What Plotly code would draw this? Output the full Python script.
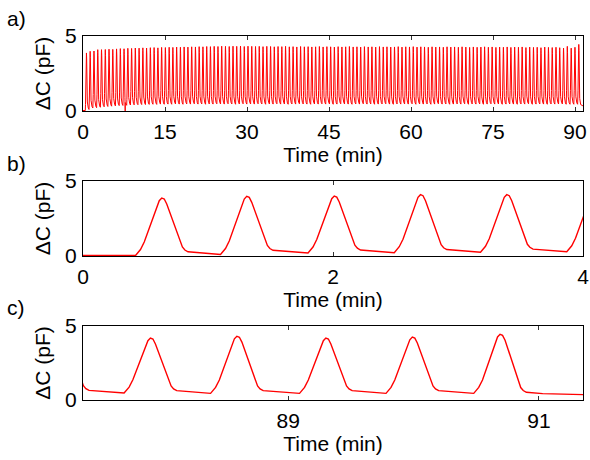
import plotly.graph_objects as go

# ---- data ----
# times (min) of each capacitance peak
peak_t = [0.63, 1.31, 2.01, 2.70, 3.39,
          4.08, 4.76, 5.45, 6.14, 6.83, 7.51, 8.20, 8.89, 9.57, 10.26,
          10.95, 11.63, 12.32, 13.01, 13.70, 14.38, 15.07, 15.76, 16.44, 17.13,
          17.82, 18.50, 19.19, 19.88, 20.57, 21.25, 21.94, 22.63, 23.31, 24.00,
          24.69, 25.37, 26.06, 26.75, 27.44, 28.12, 28.81, 29.50, 30.18, 30.87,
          31.56, 32.24, 32.93, 33.62, 34.31, 34.99, 35.68, 36.37, 37.05, 37.74,
          38.43, 39.11, 39.80, 40.49, 41.18, 41.86, 42.55, 43.24, 43.92, 44.61,
          45.30, 45.98, 46.67, 47.36, 48.05, 48.73, 49.42, 50.11, 50.79, 51.48,
          52.17, 52.85, 53.54, 54.23, 54.92, 55.60, 56.29, 56.98, 57.66, 58.35,
          59.04, 59.72, 60.41, 61.10, 61.79, 62.47, 63.16, 63.85, 64.53, 65.22,
          65.91, 66.59, 67.28, 67.97, 68.66, 69.34, 70.03, 70.72, 71.40, 72.09,
          72.78, 73.46, 74.15, 74.84, 75.53, 76.21, 76.90, 77.59, 78.27, 78.96,
          79.65, 80.33, 81.02, 81.71, 82.40, 83.08, 83.77, 84.46, 85.14, 85.83,
          86.52, 87.20,
          87.90, 88.59, 89.30, 89.99, 90.69]
# peak heights (pF)
peak_h = [3.87, 3.98, 4.00, 4.09, 4.09,
          4.10, 4.12, 4.11, 4.14, 4.16, 4.15, 4.18, 4.17, 4.20, 4.19,
          4.21, 4.20, 4.22, 4.23, 4.21, 4.24, 4.23, 4.25, 4.24, 4.26,
          4.25, 4.27, 4.26, 4.28, 4.27, 4.29, 4.28, 4.30, 4.29, 4.31,
          4.30, 4.32, 4.31, 4.30, 4.32, 4.31, 4.33, 4.30, 4.32, 4.31,
          4.30, 4.31, 4.29, 4.31, 4.30, 4.28, 4.30, 4.29, 4.31, 4.28,
          4.29, 4.27, 4.30, 4.28, 4.29, 4.27, 4.28, 4.30, 4.27, 4.29,
          4.28, 4.26, 4.29, 4.27, 4.28, 4.30, 4.27, 4.28, 4.26, 4.29,
          4.27, 4.28, 4.26, 4.29, 4.27, 4.28, 4.26, 4.27, 4.29, 4.26,
          4.28, 4.27, 4.29, 4.26, 4.28, 4.27, 4.25, 4.28, 4.26, 4.27,
          4.25, 4.28, 4.26, 4.27, 4.25, 4.28, 4.26, 4.24, 4.27, 4.25,
          4.26, 4.28, 4.25, 4.27, 4.24, 4.26, 4.25, 4.27, 4.24, 4.26,
          4.25, 4.27, 4.23, 4.26, 4.24, 4.25, 4.22, 4.26, 4.24, 4.23,
          4.25, 4.22,
          4.19, 4.31, 4.19, 4.25, 4.44]
# baseline level just before each rise (pF)
trough = [0.03, 0.10, 0.20, 0.22, 0.25,
          0.28, 0.30, 0.32, 0.34, 0.36, 0.37, 0.38, 0.40, 0.41, 0.42,
          0.43, 0.43, 0.44, 0.45, 0.44, 0.46, 0.45, 0.46, 0.45, 0.47,
          0.46, 0.45, 0.47, 0.46, 0.48, 0.46, 0.47, 0.45, 0.47, 0.46,
          0.48, 0.47, 0.46, 0.48, 0.47, 0.45, 0.47, 0.48, 0.46, 0.47,
          0.46, 0.48, 0.47, 0.45, 0.47, 0.46, 0.48, 0.46, 0.47, 0.45,
          0.47, 0.46, 0.48, 0.47, 0.46, 0.45, 0.47, 0.46, 0.48, 0.46,
          0.47, 0.45, 0.46, 0.48, 0.47, 0.46, 0.45, 0.47, 0.46, 0.48,
          0.46, 0.47, 0.45, 0.46, 0.47, 0.48, 0.46, 0.45, 0.47, 0.46,
          0.47, 0.46, 0.48, 0.45, 0.47, 0.46, 0.47, 0.45, 0.46, 0.48,
          0.46, 0.47, 0.45, 0.46, 0.47, 0.46, 0.48, 0.45, 0.47, 0.46,
          0.47, 0.45, 0.46, 0.48, 0.46, 0.47, 0.45, 0.46, 0.47, 0.46,
          0.45, 0.47, 0.46, 0.48, 0.45, 0.46, 0.47, 0.46, 0.45, 0.47,
          0.46, 0.47,
          0.47, 0.45, 0.45, 0.45, 0.45]
start_point = (0.0, 0.03)
end_point = (91.45, 0.34)
glitch_t = [7.72]
glitch_v = [0.0]

# x tick labels of the three panels
ticks_a = [0, 15, 30, 45, 60, 75, 90]
ticks_b = [0, 2, 4]
ticks_c = [89, 91]
ticks_y = [0, 5]


def build_trace():
    xs = [start_point[0]]
    ys = [start_point[1]]
    n = len(peak_t)
    for i in range(n):
        tp, h, tr = peak_t[i], peak_h[i], trough[i]
        ntr = trough[i + 1] if i + 1 < n else end_point[1]
        shape = [(-0.21, tr), (-0.17, tr + 0.4), (-0.14, tr + 0.9),
                 (-0.02, h - 0.18), (0.0, h), (0.02, h - 0.07),
                 (0.04, h - 0.4), (0.165, ntr + 0.5), (0.185, ntr + 0.3),
                 (0.21, ntr + 0.18), (0.34, ntr + 0.09)]
        for dx, v in shape:
            xs.append(tp + dx)
            ys.append(v)
    xs.append(end_point[0])
    ys.append(end_point[1])
    for gt, gv in zip(glitch_t, glitch_v):
        k = next(j for j, x in enumerate(xs) if x > gt)
        xs[k:k] = [gt - 0.005, gt, gt + 0.005]
        y0 = ys[k - 1]
        ys[k:k] = [y0, gv, y0]
    return xs, ys


tx, ty = build_trace()

FONT = "Liberation Sans, Arial, Helvetica, sans-serif"
FS = 21
RED = "#ff0000"

fig = go.Figure()
fig.add_trace(go.Scatter(x=tx, y=ty, mode="lines", line=dict(color=RED, width=1),
                         xaxis="x", yaxis="y", showlegend=False, hoverinfo="skip"))
fig.add_trace(go.Scatter(x=tx, y=ty, mode="lines", line=dict(color=RED, width=1.4),
                         xaxis="x2", yaxis="y2", showlegend=False, hoverinfo="skip"))
fig.add_trace(go.Scatter(x=tx, y=ty, mode="lines", line=dict(color=RED, width=1.4),
                         xaxis="x3", yaxis="y3", showlegend=False, hoverinfo="skip"))


def xax(rng, ticks, anchor):
    return dict(range=rng, tickvals=ticks, ticktext=[str(t) for t in ticks],
                showline=True, linecolor="black", linewidth=1.3, mirror="ticks",
                ticks="inside", ticklen=4, tickcolor="#333", tickwidth=1,
                showgrid=False, zeroline=False, anchor=anchor,
                tickfont=dict(size=FS, color="black", family=FONT),
                ticklabelstandoff=2,
                title=dict(text="Time (min)", font=dict(size=FS, color="black", family=FONT),
                           standoff=0),
                automargin=False, domain=[0, 1])


def yax(dom, anchor):
    return dict(range=[0, 5], tickvals=ticks_y, ticktext=[str(t) for t in ticks_y],
                showline=True, linecolor="black", linewidth=1.3, mirror="ticks",
                ticks="inside", ticklen=4, tickcolor="#333", tickwidth=1,
                showgrid=False, zeroline=False, anchor=anchor, domain=dom,
                tickfont=dict(size=FS, color="black", family=FONT),
                ticklabelstandoff=1,
                title=dict(text="ΔC (pF)", font=dict(size=FS, color="black", family=FONT),
                           standoff=8),
                automargin=False)


fig.update_layout(
    width=590, height=460,
    margin=dict(l=83, r=7, t=36, b=60),
    paper_bgcolor="white", plot_bgcolor="white",
    font=dict(family=FONT, size=FS, color="black"),
    xaxis=xax([0, 91.46], ticks_a, "y"),
    xaxis2=xax([0, 4], ticks_b, "y2"),
    xaxis3=xax([87.362, 91.352], ticks_c, "y3"),
    yaxis=yax([0.794, 1.0], "x"),
    yaxis2=yax([0.3956, 0.6016], "x2"),
    yaxis3=yax([0.0, 0.2033], "x3"),
    annotations=[
        dict(text=t, x=-0.156, y=y, xref="paper", yref="paper", xanchor="left",
             yanchor="middle", showarrow=False, font=dict(size=FS, color="black", family=FONT))
        for t, y in [("a)", 1.049), ("b)", 0.651), ("c)", 0.253)]
    ],
)

fig.write_html("out.html")
